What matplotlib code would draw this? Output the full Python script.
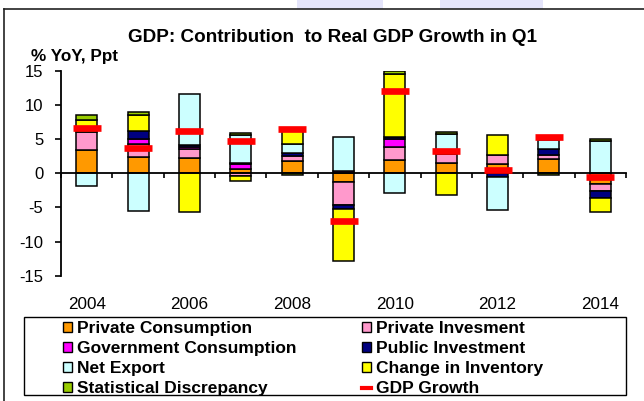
import numpy as np
import matplotlib
matplotlib.use("Agg")
import matplotlib.pyplot as plt
from matplotlib.patches import Patch, Rectangle
from matplotlib.lines import Line2D

years = [2004, 2005, 2006, 2007, 2008, 2009, 2010, 2011, 2012, 2013, 2014]
year_labels = ["2004", "", "2006", "", "2008", "", "2010", "", "2012", "", "2014"]

private_consumption = [3.45, 2.4, 2.2, 0.6, 1.75, -1.3, 1.9, 1.5, 1.3, 2.15, -1.5]
private_investment = [2.55, 1.9, 1.3, -0.4, 0.75, -3.3, 2.0, 1.3, 1.45, 0.6, -1.1]
government_consumption = [0.0, 0.8, 0.4, 0.7, 0.0, 0.3, 1.1, 0.0, 0.0, 0.0, 0.0]
public_investment = [0.0, 1.1, 0.2, 0.2, 0.5, -0.6, 0.4, 0.0, -0.6, 0.85, -1.0]
net_export = [-1.85, -5.5, 7.5, 4.1, 1.3, 5.1, -2.9, 3.0, -4.8, 1.35, 4.8]
change_in_inventory = [1.75, 2.3, -5.7, -0.75, 1.9, -7.6, 9.1, -3.1, 2.8, 0.0, -2.1]
statistical_discrepancy = [0.85, 0.5, 0.0, 0.25, -0.3, 0.0, 0.45, 0.2, 0.0, -0.3, 0.25]
gdp_growth = [6.7, 3.7, 6.2, 4.8, 6.5, -7.0, 12.0, 3.3, 0.5, 5.4, -0.6]

series = [
    ("Private Consumption", private_consumption, "#FF9900"),
    ("Private Invesment", private_investment, "#FF99CC"),
    ("Government Consumption", government_consumption, "#FF00FF"),
    ("Public Investment", public_investment, "#000080"),
    ("Net Export", net_export, "#CCFFFF"),
    ("Change in Inventory", change_in_inventory, "#FFFF00"),
    ("Statistical Discrepancy", statistical_discrepancy, "#99CC00"),
]

plt.rcParams['font.family'] = ['Liberation Sans', 'DejaVu Sans']

W, H = 644, 401
fig = plt.figure(figsize=(W / 100, H / 100), dpi=100)
fig.patch.set_facecolor("white")

# faint slide background at the top
for x0, x1 in [(297, 383), (440, 543)]:
    fig.patches.append(Rectangle((x0 / W, 1 - 9 / H), (x1 - x0) / W, 9 / H,
                                 transform=fig.transFigure, facecolor="#E4E4FA",
                                 edgecolor="none", zorder=0))
# outer frame (left and top)
fig.lines.append(Line2D([4 / W, 4 / W], [0, 1 - 9 / H], transform=fig.transFigure,
                        color="#222222", lw=1.2))
fig.lines.append(Line2D([4 / W, 1], [1 - 9 / H, 1 - 9 / H], transform=fig.transFigure,
                        color="#222222", lw=1.2))

ax_left, ax_right = 61, 626
ax_top, ax_bot = 71, 275.7
ax = fig.add_axes([ax_left / W, 1 - ax_bot / H, (ax_right - ax_left) / W, (ax_bot - ax_top) / H])
ax.set_facecolor("none")

x = np.arange(len(years))
bar_w = 0.41
pos_base = np.zeros(len(years))
neg_base = np.zeros(len(years))
for name, vals, col in series:
    v = np.array(vals, dtype=float)
    for i, val in enumerate(v):
        if val == 0:
            continue
        if val > 0:
            ax.bar(x[i], val, bottom=pos_base[i], width=bar_w, color=col,
                   edgecolor="black", linewidth=1.1, zorder=2)
            pos_base[i] += val
        else:
            ax.bar(x[i], val, bottom=neg_base[i], width=bar_w, color=col,
                   edgecolor="black", linewidth=1.1, zorder=2)
            neg_base[i] += val

ax.plot(x, gdp_growth, linestyle="none", marker="_", markersize=19.5,
        markeredgewidth=4.8, color="#FF0000", zorder=4)

ax.set_xlim(-0.5, len(years) - 0.5)
ax.set_ylim(-15, 15)
ax.set_yticks([-15, -10, -5, 0, 5, 10, 15])
ax.set_yticklabels(["-15", "-10", "-5", "0", "5", "10", "15"])
ax.tick_params(axis="y", direction="out", length=4.3, width=1.2, pad=8.5,
               labelsize=12, colors="black")

ax.spines["top"].set_visible(False)
ax.spines["right"].set_visible(False)
ax.spines["left"].set_linewidth(1.3)
ax.spines["bottom"].set_position(("data", 0))
ax.spines["bottom"].set_linewidth(1.3)
ax.spines["bottom"].set_zorder(3)

ax.set_xticks(x)
ax.set_xticklabels(year_labels)
ax.set_xticks(np.arange(-0.5, len(years), 1.0), minor=True)
ax.tick_params(axis="x", which="major", length=0, pad=89, labelsize=12.3)
ax.tick_params(axis="x", which="minor", direction="out", length=3.8, width=1.2)

fig.text(332 / W, 1 - 37 / H, "GDP: Contribution  to Real GDP Growth in Q1",
         ha="center", va="center", fontsize=13.6, fontweight="bold")
fig.text(31 / W, 1 - 56 / H, "% YoY, Ppt", ha="left", va="center",
         fontsize=12.3, fontweight="bold")

# legend box
fig.patches.append(Rectangle((24 / W, 1 - 395 / H), (626 - 24) / W, (395 - 316.7) / H,
                             transform=fig.transFigure, facecolor="white",
                             edgecolor="black", lw=1.0, zorder=1))

handles = {}
for name, vals, col in series:
    handles[name] = Patch(facecolor=col, edgecolor="black", linewidth=1.0)
handles["GDP Growth"] = Line2D([0], [0], color="#FF0000", lw=3)
order = ["Private Consumption", "Government Consumption", "Net Export",
         "Statistical Discrepancy", "Private Invesment", "Public Investment",
         "Change in Inventory", "GDP Growth"]
leg = fig.legend([handles[k] for k in order], order, ncol=2, frameon=False,
                 loc="upper left", bbox_to_anchor=(63 / W, 1 - 321 / H),
                 borderaxespad=0, borderpad=0, handlelength=0.54, handleheight=0.48,
                 handletextpad=0.28, labelspacing=0.29, columnspacing=3.75,
                 prop={"weight": "bold", "size": 12.5})

fig.savefig("out.png", dpi=100)
